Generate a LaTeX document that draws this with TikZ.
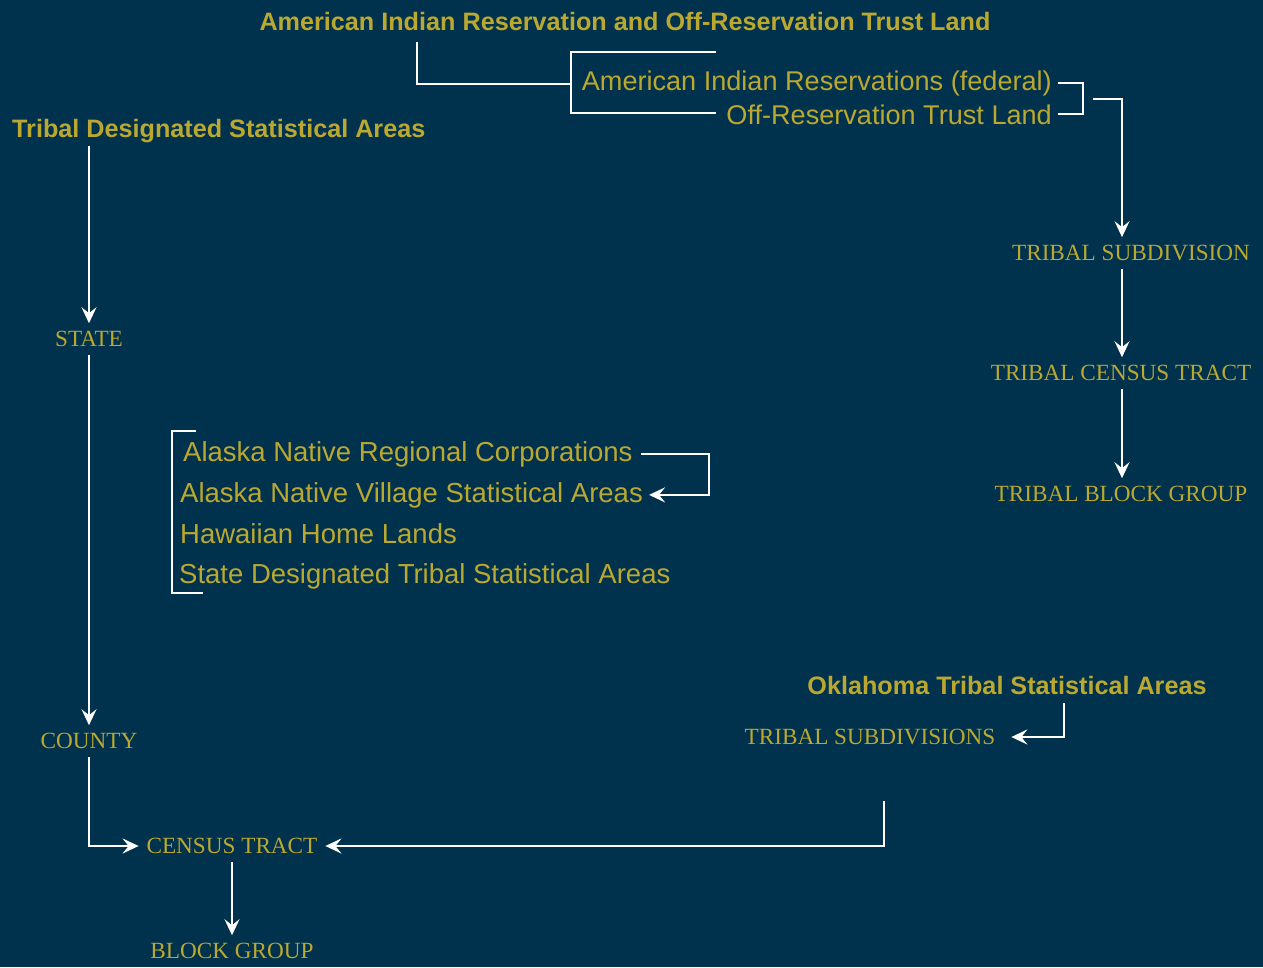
\documentclass[tikz,border=0pt]{standalone}
\usepackage{fontspec}
\setmainfont{Liberation Serif}
\newfontfamily\hsans{Liberation Sans}
\usetikzlibrary{arrows.meta,calc}
\definecolor{bgblue}{HTML}{00324D}
\definecolor{gold}{HTML}{BBA830}
\begin{document}
\begin{tikzpicture}[x=1pt,y=-1pt,
  ln/.style={draw=white,line width=2.3pt},
  arr/.style={ln,-{Stealth[length=16pt,width=15pt,inset=6pt]}},
  caps/.style={text=gold,font=\fontsize{23.2}{23}\selectfont,inner sep=0pt,outer sep=8pt},
  head/.style={text=gold,font=\hsans\bfseries\fontsize{25.2}{25}\selectfont,inner sep=0pt},
  item/.style={text=gold,font=\hsans\fontsize{27.5}{27}\selectfont,inner sep=0pt},
  itemsm/.style={item,font=\hsans\fontsize{27.1}{27}\selectfont},
]
\fill[bgblue] (0,0) rectangle (1263,967);
\useasboundingbox (0,0) rectangle (1263,967);

% headings
\node[head,anchor=base] (t1) at (625,30) {American Indian Reservation and Off-Reservation Trust Land};
\node[head,anchor=base west] (tdsa) at (12,137) {Tribal Designated Statistical Areas};
\node[head,anchor=base] (otsa) at (1007,694) {Oklahoma Tribal Statistical Areas};

% items
\node[itemsm,anchor=base east] (air) at (1052,90) {American Indian Reservations (federal)};
\node[itemsm,anchor=base east] (ortl) at (1052,124) {Off-Reservation Trust Land};
\node[item,anchor=base west] (ak1) at (183,461) {Alaska Native Regional Corporations};
\node[item,anchor=base west] (ak2) at (180,502) {Alaska Native Village Statistical Areas};
\node[item,anchor=base west] (hhl) at (180,543) {Hawaiian Home Lands};
\node[item,anchor=base west] (sdtsa) at (179,583) {State Designated Tribal Statistical Areas};

% levels
\node[caps] (tsub) at (1131,253) {TRIBAL SUBDIVISION};
\node[caps] (tct) at (1121,373) {TRIBAL CENSUS TRACT};
\node[caps] (tbg) at (1121,494) {TRIBAL BLOCK GROUP};
\node[caps] (state) at (89,339) {STATE};
\node[caps] (county) at (89,741) {COUNTY};
\node[caps] (ct) at (232,846) {CENSUS TRACT};
\node[caps] (bgr) at (232,951) {BLOCK GROUP};
\node[caps] (tsubs) at (870,737) {TRIBAL SUBDIVISIONS};

% helper coordinates
\coordinate (xr) at (1122,0);
\coordinate (c1) at (417,42);
\coordinate (c2) at (571,84);
\coordinate (rb) at (1093,99);
\coordinate (ok) at (1064,703);
\coordinate (ctr) at (884,801);

% top connector and bracket
\draw[ln] (c1) |- (c2);
\draw[ln] (716,52) -- (571,52) -- (571,113) -- (716,113);
\draw[ln] ([xshift=6pt]air.east) -| ([xshift=31pt]ortl.east) -- ([xshift=6pt]ortl.east);
\draw[arr] (rb) -| (tsub.north -| xr);
\draw[arr] (tsub.south -| xr) -- (tct.north -| xr);
\draw[arr] (tct.south -| xr) -- (tbg.north -| xr);

% left column
\draw[arr,shorten <=3pt] (tdsa.south -| state) -- (state.north);
\draw[arr] (state.south) -- (county.north);
\draw[arr] (county.south) |- (ct.west);
\draw[arr] (ct.south) -- (bgr.north);

% Alaska bracket
\draw[ln] (196,431) -- (172,431) -- (172,593) -- (203,593);
\draw[arr] ([xshift=8pt]ak1.east) -- (709,0 |- ak1.east) |- ([xshift=6pt]ak2.east);

% Oklahoma
\draw[arr] (ok) |- ([xshift=8pt]tsubs.east);
\draw[arr] (ctr) |- (ct.east);
\end{tikzpicture}
\end{document}
